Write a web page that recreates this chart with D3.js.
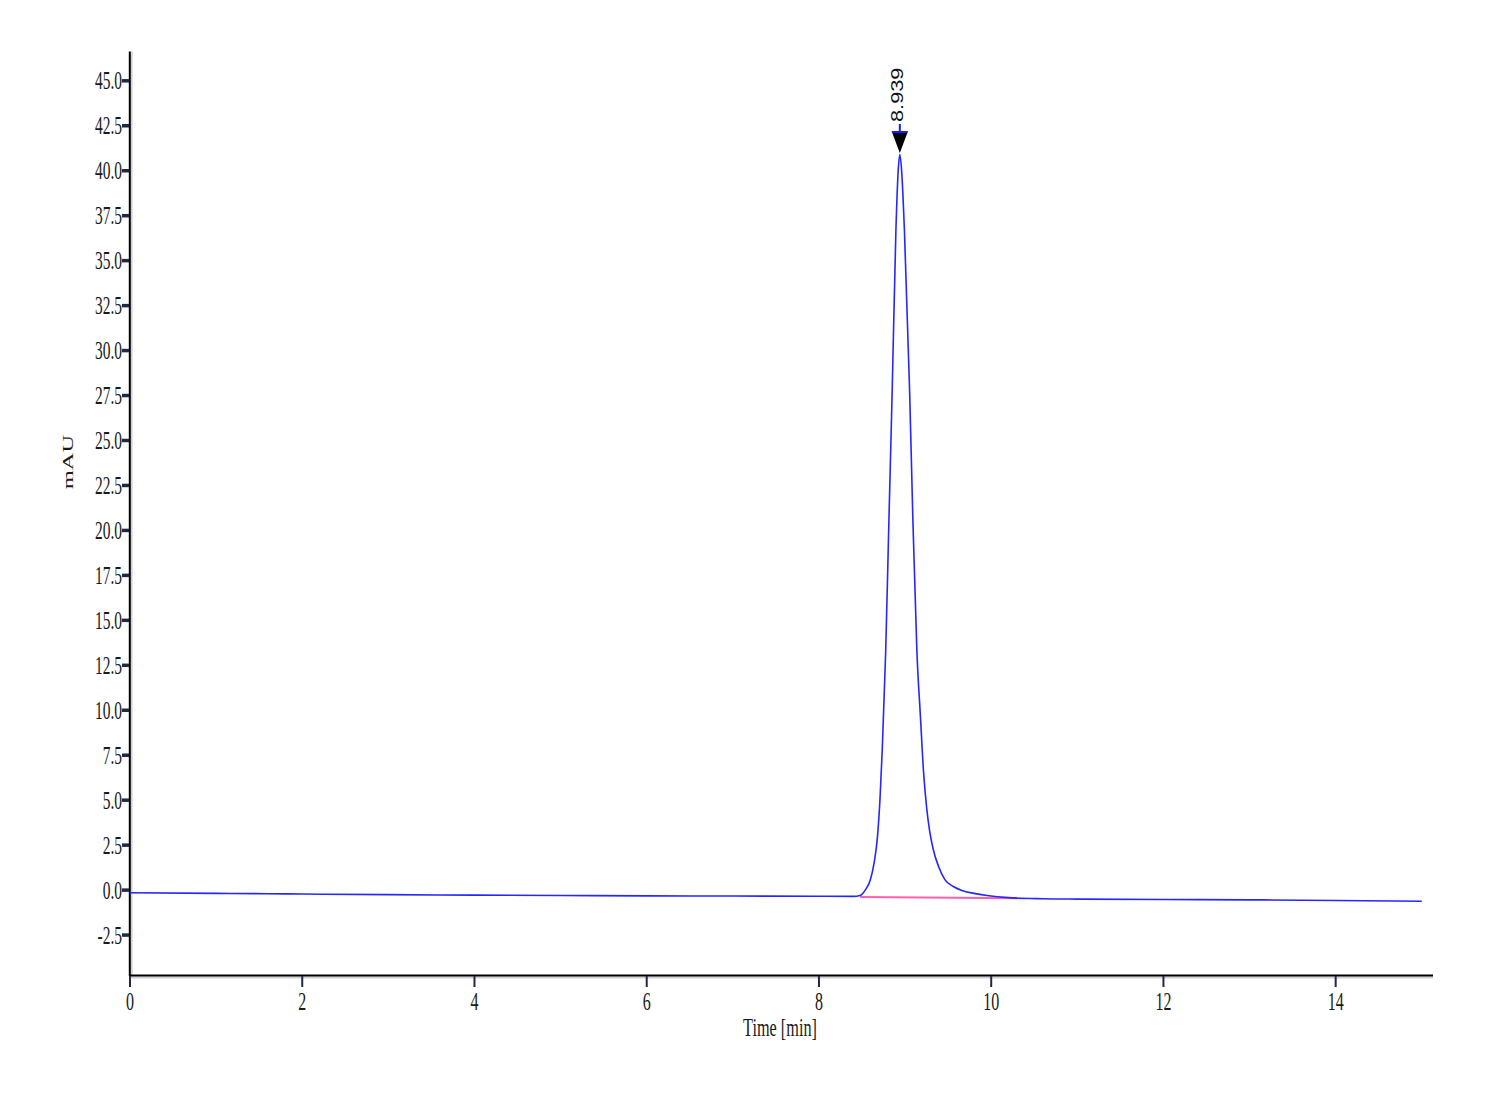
<!DOCTYPE html>
<html>
<head>
<meta charset="utf-8">
<script src="https://cdn.jsdelivr.net/npm/d3@7"></script>
<style>
  html, body { margin: 0; padding: 0; background: #ffffff; }
  svg { display: block; }
</style>
</head>
<body>
<svg id="chart" width="1500" height="1100"></svg>
<script>
// ---- data ----
const timeMin = [0, 1, 1.6, 2, 3, 4, 5, 6, 7, 8, 8.40, 8.478, 8.537, 8.595, 8.640, 8.680, 8.708, 8.735, 8.775, 8.812, 8.850, 8.893, 8.920, 8.939, 8.960, 8.993, 9.053, 9.091, 9.137, 9.180, 9.214, 9.250, 9.285, 9.330, 9.390, 9.460, 9.560, 9.66, 9.80, 9.95, 10.2, 10.6, 11, 12, 13, 14, 15];
const mAU     = [-0.15, -0.18, -0.20, -0.22, -0.25, -0.28, -0.30, -0.32, -0.33, -0.34, -0.35, -0.30, 0.0, 0.55, 1.5, 3.0, 5.0, 7.8, 13.3, 20.5, 27.7, 36.6, 40.0, 40.9, 40.0, 36.6, 27.7, 20.5, 13.3, 9.5, 6.6, 4.6, 3.3, 2.2, 1.3, 0.6, 0.2, -0.02, -0.18, -0.30, -0.42, -0.48, -0.50, -0.52, -0.54, -0.58, -0.62];
const baselineTime = [8.478, 10.4];
const baselineVal  = [-0.38, -0.45];
const peakTime = 8.939;
const peakLabel = "8.939";
const xTicks = [0, 2, 4, 6, 8, 10, 12, 14];
const yTicks = [-2.5, 0, 2.5, 5, 7.5, 10, 12.5, 15, 17.5, 20, 22.5, 25, 27.5, 30, 32.5, 35, 37.5, 40, 42.5, 45];
const xTitle = "Time [min]";
const yTitle = "mAU";

// ---- layout ----
const svg = d3.select("#chart");
const x = d3.scaleLinear().domain([0, 15.13]).range([130, 1433]);
const y = d3.scaleLinear().domain([-4.72, 46.63]).range([975, 51.5]);

const tickColor = "#1c2b44";
const serif = "'Liberation Serif', 'Times New Roman', serif";
const fmtY = v => v.toFixed(1);

// axes lines with shadow
svg.append("line").attr("x1", 131.6).attr("x2", 131.6).attr("y1", y.range()[1]).attr("y2", 977)
  .attr("stroke", "#d0d0d0").attr("stroke-width", 2);
svg.append("line").attr("x1", 129).attr("x2", 1433).attr("y1", 977.6).attr("y2", 977.6)
  .attr("stroke", "#d0d0d0").attr("stroke-width", 2);
svg.append("line").attr("x1", 129.8).attr("x2", 129.8).attr("y1", y.range()[1]).attr("y2", 976)
  .attr("stroke", "#000").attr("stroke-width", 2);
svg.append("line").attr("x1", 129).attr("x2", 1433).attr("y1", 975.5).attr("y2", 975.5)
  .attr("stroke", "#000").attr("stroke-width", 2);

// y ticks
const yg = svg.append("g");
yTicks.forEach(v => {
  yg.append("line").attr("x1", 122).attr("x2", 129).attr("y1", y(v)).attr("y2", y(v))
    .attr("stroke", tickColor).attr("stroke-width", 3.5);
  yg.append("text")
    .attr("transform", `translate(122,${y(v) + 8.5}) scale(0.62,1)`)
    .attr("text-anchor", "end")
    .attr("font-family", serif).attr("font-size", 25).attr("fill", "#1a1a1a")
    .text(fmtY(v));
});

// x ticks
const xg = svg.append("g");
xTicks.forEach(v => {
  xg.append("line").attr("x1", x(v)).attr("x2", x(v)).attr("y1", 976).attr("y2", 987)
    .attr("stroke", tickColor).attr("stroke-width", 2);
  xg.append("text")
    .attr("transform", `translate(${x(v)},${1010}) scale(0.64,1)`)
    .attr("text-anchor", "middle")
    .attr("font-family", serif).attr("font-size", 25).attr("fill", "#1a1a1a")
    .text(v);
});

// axis titles
svg.append("text")
  .attr("transform", "translate(780,1036) scale(0.65,1)")
  .attr("text-anchor", "middle")
  .attr("font-family", serif).attr("font-size", 25).attr("fill", "#1a1a1a")
  .text(xTitle);
svg.append("text")
  .attr("transform", "translate(73,462) rotate(-90) scale(1.75,1)")
  .attr("text-anchor", "middle")
  .attr("font-family", serif).attr("font-size", 14).attr("fill", "#1a1a1a")
  .text(yTitle);

// baseline (pink)
svg.append("path")
  .datum(baselineTime.map((t, i) => [t, baselineVal[i]]))
  .attr("d", d3.line().x(d => x(d[0])).y(d => y(d[1])))
  .attr("fill", "none").attr("stroke", "#ff5faf").attr("stroke-width", 2);

// signal trace
svg.append("path")
  .datum(timeMin.map((t, i) => [t, mAU[i]]))
  .attr("d", d3.line().x(d => x(d[0])).y(d => y(d[1])).curve(d3.curveMonotoneX))
  .attr("fill", "none").attr("stroke", "#2626ff").attr("stroke-width", 1.6);

// peak marker
const px = x(peakTime);
svg.append("path")
  .attr("d", `M${px - 7.5},133 L${px + 7.5},133 L${px},153 Z`)
  .attr("fill", "#000");
svg.append("line").attr("x1", px - 8).attr("x2", px + 8).attr("y1", 132).attr("y2", 132)
  .attr("stroke", "#1a1aff").attr("stroke-width", 2);
svg.append("line").attr("x1", px).attr("x2", px).attr("y1", 124).attr("y2", 132)
  .attr("stroke", "#1a1aff").attr("stroke-width", 2);
svg.append("text")
  .attr("transform", `translate(${px + 3.5},122) rotate(-90) scale(1.36,1)`)
  .attr("text-anchor", "start")
  .attr("font-family", "'Liberation Sans', Arial, sans-serif").attr("font-size", 16).attr("fill", "#111")
  .text(peakLabel);
</script>
</body>
</html>
